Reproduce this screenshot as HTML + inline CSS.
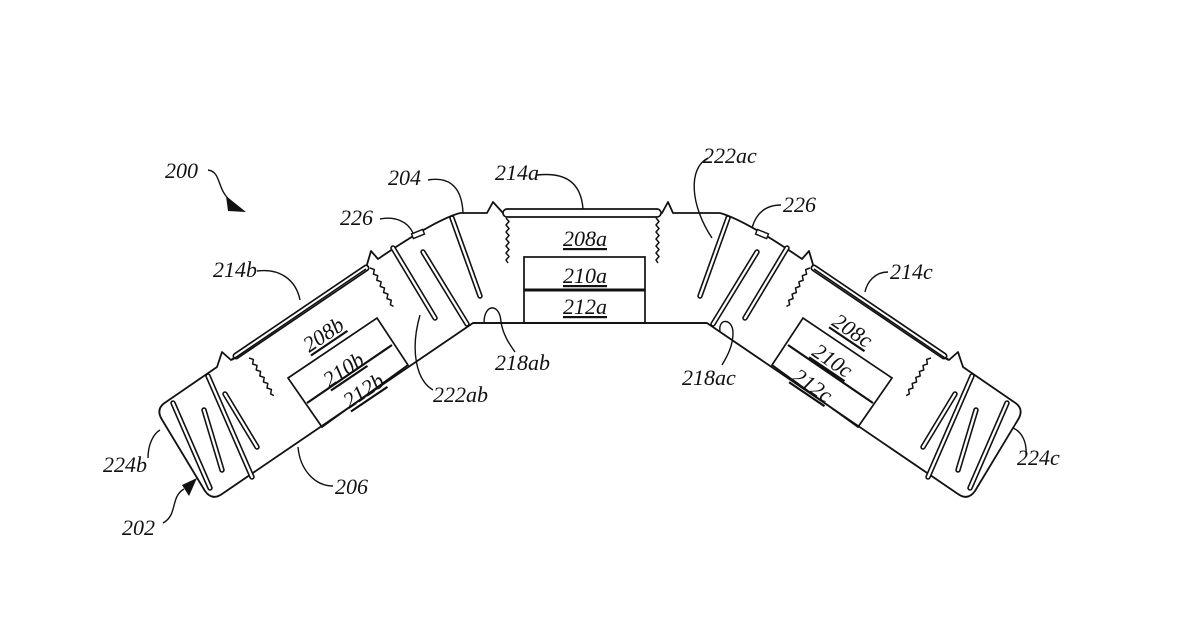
<!DOCTYPE html>
<html><head><meta charset="utf-8"><style>
html,body{margin:0;padding:0;background:#fff;}
svg{display:block}
text{font-family:"Liberation Serif",serif;font-style:italic;font-size:22px;fill:#111}
.u{text-decoration:underline}
</style></head><body>
<svg width="1200" height="622" viewBox="0 0 1200 622" xmlns="http://www.w3.org/2000/svg">
<defs>
<path id="z" d="M0,0 l3,3.5 l-3,3.5 l3,3.5 l-3,3.5 l3,3.5 l-3,3.5 l3,3.5 l-3,3.5 l3,3.5 l-3,3.5 l3,3.5 l-3,3.5 l2,3" fill="none" stroke="#111" stroke-width="1.5" stroke-linejoin="round"/>
<g id="L">
  <path d="M590,323 L473,323 L222,494 Q212,501 205,491 L161,418 Q156,408 166,402 L217,367 L222,352 L231,360 L366,268 L371,251 L378,259 Q435,220 460,213" fill="none" stroke="#111" stroke-width="1.8" stroke-linejoin="round"/>
  <!-- plate 214b -->
  <line x1="236" y1="356" x2="366" y2="268" stroke="#111" stroke-width="7" stroke-linecap="round"/>
  <line x1="236" y1="356" x2="366" y2="268" stroke="#fff" stroke-width="3.6" stroke-linecap="round"/>
  <line x1="232" y1="360" x2="366" y2="269" stroke="#111" stroke-width="1.6"/>
  <!-- serrations -->
  <use href="#z" transform="translate(249,358) rotate(-31)"/>
  <use href="#z" transform="translate(370,268) rotate(-29)"/>
  <!-- box -->
  <polygon points="288,378 377,318 408,365 322,427" fill="none" stroke="#111" stroke-width="1.7"/>
  <line x1="307" y1="403" x2="392" y2="345" stroke="#111" stroke-width="2.2"/>
  <!-- double lines -->
  <g stroke="#111" stroke-width="5.5" stroke-linecap="round" fill="none">
    <line x1="208" y1="376" x2="252" y2="477"/>
    <line x1="257" y1="447" x2="225" y2="394"/>
    <line x1="204" y1="410" x2="222" y2="470"/>
    <line x1="173" y1="403" x2="210" y2="488"/>
    <line x1="393" y1="248" x2="435" y2="318"/>
    <line x1="423" y1="252" x2="467" y2="324"/>
    <line x1="452" y1="218" x2="480" y2="296"/>
  </g>
  <g stroke="#fff" stroke-width="2.3" stroke-linecap="round" fill="none">
    <line x1="208" y1="376" x2="252" y2="477"/>
    <line x1="257" y1="447" x2="225" y2="394"/>
    <line x1="204" y1="410" x2="222" y2="470"/>
    <line x1="173" y1="403" x2="210" y2="488"/>
    <line x1="393" y1="248" x2="435" y2="318"/>
    <line x1="423" y1="252" x2="467" y2="324"/>
    <line x1="452" y1="218" x2="480" y2="296"/>
  </g>
  <!-- 226 marker -->
  <rect x="-6" y="-2.5" width="12" height="5" transform="translate(418,234) rotate(-22)" fill="#fff" stroke="#111" stroke-width="1.4"/>
</g>
</defs>

<use href="#L"/>
<use href="#L" transform="matrix(-1 0 0 1 1180 0)"/>

<!-- center -->
<path d="M460,213 L487,213 L493,202 L503,213 L662,213 L668,202 L673,213 L720,213" fill="none" stroke="#111" stroke-width="1.8" stroke-linejoin="round"/>
<line x1="473" y1="323" x2="707" y2="323" stroke="#111" stroke-width="1.8"/>
<rect x="503" y="209" width="158" height="8" rx="4" fill="#fff" stroke="#111" stroke-width="1.7"/>
<use href="#z" transform="translate(506,218)"/>
<use href="#z" transform="translate(656,218)"/>
<rect x="524" y="257" width="121" height="66" fill="none" stroke="#111" stroke-width="1.7"/>
<line x1="524" y1="290" x2="645" y2="290" stroke="#111" stroke-width="3"/>

<!-- labels in boxes -->
<text class="u" x="585" y="246" text-anchor="middle">208a</text>
<text class="u" x="585" y="283" text-anchor="middle">210a</text>
<text class="u" x="585" y="314" text-anchor="middle">212a</text>
<g transform="translate(323,334) rotate(-34)"><text class="u" x="0" y="8" text-anchor="middle">208b</text></g>
<g transform="translate(343,369) rotate(-34)"><text class="u" x="0" y="8" text-anchor="middle">210b</text></g>
<g transform="translate(363,390) rotate(-34)"><text class="u" x="0" y="8" text-anchor="middle">212b</text></g>
<g transform="translate(853,330) rotate(34)"><text class="u" x="0" y="8" text-anchor="middle">208c</text></g>
<g transform="translate(833,360) rotate(34)"><text class="u" x="0" y="8" text-anchor="middle">210c</text></g>
<g transform="translate(813,385) rotate(34)"><text class="u" x="0" y="8" text-anchor="middle">212c</text></g>

<!-- leaders -->
<g fill="none" stroke="#111" stroke-width="1.4">
  <path d="M208,170 C222,172 216,190 232,202"/>
  <path d="M428,180 C452,176 462,190 463,213"/>
  <path d="M537,175 C565,172 581,182 583,209"/>
  <path d="M708,158 C688,168 690,205 712,238"/>
  <path d="M380,219 C396,216 408,222 413,233"/>
  <path d="M781,205 C765,205 756,214 752,228"/>
  <path d="M257,271 C280,268 296,280 300,300"/>
  <path d="M888,272 C875,272 867,282 865,292"/>
  <path d="M484,323 C484,303 500,303 501,322 C503,335 510,345 515,352"/>
  <path d="M720,331 C718,318 733,318 733,333 C733,345 728,355 722,365"/>
  <path d="M433,390 C416,380 410,350 420,315"/>
  <path d="M148,458 C148,445 153,434 160,430"/>
  <path d="M1013,428 C1022,432 1027,442 1026,455"/>
  <path d="M163,523 C178,515 170,497 184,489"/>
  <path d="M298,447 C300,470 315,486 333,486"/>
</g>
<polygon points="226,196 246,212 228,211" fill="#111"/>
<polygon points="197,478 182,485 189,496" fill="#111"/>

<!-- labels -->
<text x="165" y="178">200</text>
<text x="388" y="185">204</text>
<text x="495" y="180">214a</text>
<text x="703" y="163">222ac</text>
<text x="340" y="225">226</text>
<text x="783" y="212">226</text>
<text x="213" y="277">214b</text>
<text x="890" y="279">214c</text>
<text x="495" y="370">218ab</text>
<text x="682" y="385">218ac</text>
<text x="433" y="402">222ab</text>
<text x="103" y="472">224b</text>
<text x="1017" y="465">224c</text>
<text x="122" y="535">202</text>
<text x="335" y="494">206</text>
</svg>
</body></html>
